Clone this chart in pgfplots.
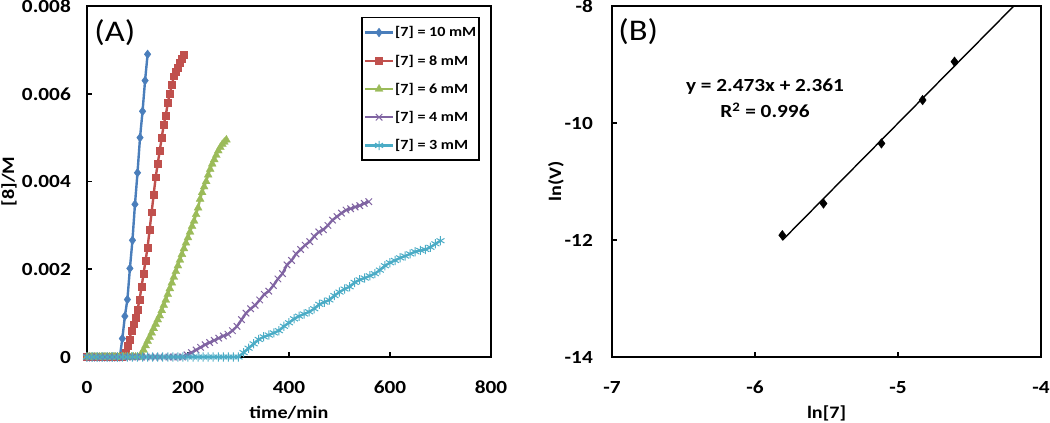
\documentclass[border=0pt]{standalone}
\usepackage{fontspec}
\setmainfont{Carlito}[FakeStretch=1.15]
\usepackage{pgfplots}
\pgfplotsset{compat=1.18}
\definecolor{cblue}{HTML}{4A7EBB}
\definecolor{cred}{HTML}{C0504D}
\definecolor{cgreen}{HTML}{9BBB59}
\definecolor{cpurple}{HTML}{8064A2}
\definecolor{ccyan}{HTML}{4BACC6}
\newcommand{\tickfont}{\fontsize{18.5}{21}\selectfont\bfseries}
\newcommand{\labfont}{\fontsize{17.5}{20}\selectfont\bfseries}
\pgfplotsset{
  myaxis/.style={
    scale only axis, clip=false,
    axis line style={line width=2.2pt},
    tick align=inside, tick pos=left,
    major tick length=5pt,
    every tick/.style={black, line width=1.6pt},
    tick label style={font=\tickfont, inner sep=0pt},
    /pgf/number format/assume math mode=true,
    xticklabel style={anchor=north, yshift=-24pt},
    label style={font=\labfont},
    xlabel style={at={(axis description cs:0.5,0)}, anchor=center, yshift=-56pt},
  },
  legend image code/.code={\draw[mark repeat=2,mark phase=2] plot coordinates {(0pt,0pt) (14pt,0pt) (28pt,0pt)};},
}
\begin{document}
\begin{tikzpicture}
\path[use as bounding box] (0,0) rectangle (1050pt,423pt);
% Panel A
\begin{axis}[myaxis,
  at={(87pt,66pt)}, anchor=south west,
  width=404pt, height=351pt,
  xmin=0, xmax=800, ymin=0, ymax=0.008,
  xtick={0,200,400,600,800},
  xticklabels={0,200,400,600,800},
  ytick={0,0.002,0.004,0.006,0.008},
  yticklabels={0,0.002,0.004,0.006,0.008},
  yticklabel style={anchor=east, xshift=-16pt},
  xlabel={time/min},
  ylabel={[8]/M},
  ylabel style={at={(axis description cs:-0.193,0.5)}, anchor=center},
  legend style={at={(0.973,0.969)}, anchor=north east, draw=black, line width=1.6pt,
    font=\fontsize{14}{16}\selectfont\bfseries, row sep=14.5pt,
    inner xsep=2pt, inner ysep=8pt, column sep=0pt,
    nodes={inner xsep=1pt, inner ysep=1pt}, cells={anchor=west}},
  legend cell align=left,
]
\addplot[cblue, line width=2.4pt, mark=diamond*, mark size=4.3pt, mark options={solid, line width=0.5pt}] coordinates {
(0,0) (5,0) (10,0) (15,0) (20,0) (25,0) (30,0) (35,0) (40,0) (45,0) (50,0) (55,0) (60,0) (65,0)
(70,0.00042) (75,0.00093) (80,0.00131) (85,0.00202) (90,0.00266) (95,0.00348) (100,0.0042)
(105,0.0050) (110,0.0056) (115,0.0063) (120,0.0069)};
\addlegendentry{[7] = 10 mM}
\addplot[cred, line width=2.4pt, mark=square*, mark size=3.4pt, mark options={solid, line width=0.3pt}] coordinates {
(0,0) (4,0) (8,0) (12,0) (16,0) (20,0) (24,0) (28,0) (32,0) (36,0) (40,0) (44,0) (48,0) (52,0) (56,0) (60,0) (64,0) (68,0)
(72,0.00003) (76,0.0001) (80,0.00025) (84,0.0004) (88,0.0006) (92,0.00075) (96,0.0009) (100,0.00108)
(104,0.0013) (108,0.0016) (112,0.0019) (116,0.0022) (120,0.0025) (124,0.0029) (128,0.0033) (132,0.0037)
(136,0.0041) (140,0.0044) (144,0.0047) (148,0.0050) (152,0.0053) (156,0.0055) (160,0.0058) (164,0.0060)
(168,0.0062) (172,0.0064) (176,0.0065) (180,0.0066) (184,0.0067) (188,0.0068) (192,0.0069)};
\addlegendentry{[7] = 8 mM}
\addplot[cgreen, line width=2.4pt, mark=triangle*, mark size=4.6pt, mark options={solid, line width=0.3pt}] coordinates {
(0,0) (4,0) (8,0) (12,0) (16,0) (20,0) (24,0) (28,0) (32,0) (36,0) (40,0) (44,0) (48,0) (52,0) (56,0)
(60,0) (64,0) (68,0) (72,0) (76,0) (80,0) (84,0) (88,0) (92,0) (96,0) (100,0) (104,0)
(108,0.00008) (112,0.00016) (116,0.00026) (120,0.00036) (124,0.00045) (128,0.00055) (132,0.00065)
(136,0.00075) (140,0.00085) (144,0.00094) (148,0.00106) (152,0.00118) (156,0.0013) (160,0.00143)
(164,0.00156) (168,0.00169) (172,0.00182) (176,0.00195) (180,0.00208) (184,0.00221) (188,0.00234)
(192,0.00247) (196,0.0026) (200,0.00272) (204,0.00285) (208,0.00298) (212,0.0031) (216,0.00325)
(220,0.0034) (224,0.0036) (228,0.00375) (232,0.00388) (236,0.004) (240,0.00415) (244,0.00428)
(248,0.0044) (252,0.0045) (256,0.0046) (260,0.0047) (264,0.00478) (268,0.00485) (272,0.0049) (276,0.00495)};
\addlegendentry{[7] = 6 mM}
\addplot[cpurple, line width=2.4pt, mark=x, mark size=4.6pt, mark options={solid, line width=1pt}] coordinates {
(0,0) (9,0) (18,0) (27,0) (36,0) (45,0) (54,0) (63,0) (72,0) (81,0) (90,0) (99,0) (108,0) (117,0)
(126,0) (135,0) (144,0) (153,0) (162,0) (171,0) (180,0) (189,0)
(198,0.00005) (207,0.0001) (216,0.00016) (225,0.00022) (234,0.00028) (243,0.00033) (252,0.00038)
(261,0.00043) (270,0.00048) (279,0.00052) (288,0.0006) (297,0.0007) (306,0.00085) (315,0.001)
(324,0.0011) (333,0.00118) (342,0.0013) (351,0.00143) (360,0.0015) (369,0.00163) (378,0.00178)
(387,0.0019) (396,0.0021) (405,0.0022) (414,0.00235) (423,0.00245) (432,0.00255) (441,0.00263)
(450,0.00275) (459,0.00285) (468,0.0029) (477,0.003) (486,0.00312) (495,0.0032) (504,0.00328)
(513,0.00335) (522,0.00338) (531,0.00342) (540,0.00345) (549,0.0035) (558,0.00354)};
\addlegendentry{[7] = 4 mM}
\addplot[ccyan, line width=2.4pt, mark=asterisk, mark size=4.6pt, mark options={solid, line width=1pt}] coordinates {
(0,0) (10,0) (20,0) (30,0) (40,0) (50,0) (60,0) (70,0) (80,0) (90,0) (100,0) (110,0) (120,0) (130,0)
(140,0) (150,0) (160,0) (170,0) (180,0) (190,0) (200,0) (210,0) (220,0) (230,0) (240,0) (250,0)
(260,0) (270,0) (280,0) (290,0) (300,0)
(310,0.0001) (320,0.0002) (330,0.0003) (340,0.0004) (350,0.00046) (360,0.0005) (370,0.00055)
(380,0.0006) (390,0.0007) (400,0.00078) (410,0.00087) (420,0.00093) (430,0.00098) (440,0.00103)
(450,0.0011) (460,0.0012) (470,0.00125) (480,0.0013) (490,0.0014) (500,0.00148) (510,0.00155)
(520,0.0016) (530,0.0017) (540,0.00176) (550,0.0018) (560,0.00185) (570,0.0019) (580,0.00198)
(590,0.00208) (600,0.00215) (610,0.0022) (620,0.00226) (630,0.0023) (640,0.00235) (650,0.0024)
(660,0.00243) (670,0.00245) (680,0.0025) (690,0.00258) (700,0.00265)};
\addlegendentry{[7] = 3 mM}
\node[font=\fontsize{30}{34}\selectfont] at (rel axis cs:0.069,0.923) {(A)};
\end{axis}
% Panel B
\begin{axis}[myaxis,
  at={(612pt,66pt)}, anchor=south west,
  width=429pt, height=351pt,
  xmin=-7, xmax=-4, ymin=-14, ymax=-8,
  xtick={-7,-6,-5,-4},
  xticklabels={-7,-6,-5,-4},
  ytick={-14,-12,-10,-8},
  yticklabels={-14,-12,-10,-8},
  yticklabel style={anchor=east, xshift=-19pt},
  xlabel={ln[7]},
  ylabel={ln(V)},
  ylabel style={at={(axis description cs:-0.1305,0.5)}, anchor=center},
]
\addplot[black, line width=1.4pt] coordinates {(-5.809,-12.005) (-4.19,-8)};
\addplot[only marks, black, mark=diamond*, mark size=4.8pt] coordinates {
(-5.809,-11.918) (-5.521,-11.376) (-5.116,-10.349) (-4.828,-9.608) (-4.605,-8.952)};
\node[font=\fontsize{30}{34}\selectfont] at (rel axis cs:0.061,0.926) {(B)};
\node[font=\tickfont] at (axis cs:-5.93,-9.385) {y = 2.473x + 2.361};
\node[font=\tickfont] at (axis cs:-5.93,-9.78) {R\textsuperscript{2} = 0.996};
\end{axis}
\end{tikzpicture}
\end{document}
